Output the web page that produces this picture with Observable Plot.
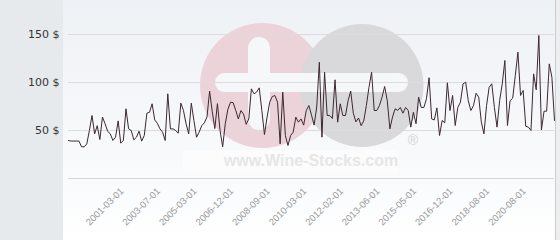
<!DOCTYPE html>
<html>
<head>
<meta charset="utf-8">
<script src="https://cdn.jsdelivr.net/npm/d3@7"></script>
<script src="https://cdn.jsdelivr.net/npm/@observablehq/plot@0.6"></script>
<style>
  html, body { margin: 0; padding: 0; background: #ffffff; }
  #wrap { position: relative; width: 560px; height: 240px; overflow: hidden; }
  #leftpanel { position: absolute; left: 0; top: 0; width: 63px; height: 240px; background: #e6eaed; }
  #plotbg { position: absolute; left: 63px; top: 0; width: 493px; height: 240px;
            background: linear-gradient(#eef1f5, #fbfcfd 200px, #ffffff); }
  #rightedge { position: absolute; left: 555px; top: 0; width: 5px; height: 240px;
               background: #eceef0; border-left: 1.5px solid #cdcdcd; box-sizing: border-box; }
  #wm, #chart { position: absolute; left: 0; top: 0; }
</style>
</head>
<body>
<div id="wrap">
  <div id="leftpanel"></div>
  <div id="plotbg"></div>
  <div id="rightedge"></div>
  <svg id="wm" width="560" height="240">
    <rect x="183" y="150" width="215" height="23" fill="#fcfcfd"/>
    <circle cx="262.5" cy="85.5" r="62.5" fill="#ebd3d9"/>
    <circle cx="362" cy="85.5" r="61.5" fill="#d9d9db"/>
    <rect x="215" y="73" width="193" height="19" rx="9.5" fill="#f6f7f9"/>
    <rect x="248" y="37" width="22" height="93" rx="11" fill="#f6f7f9"/>
    <text x="311" y="166" text-anchor="middle" font-family="Liberation Sans, Arial, sans-serif" font-weight="bold" font-size="16" fill="#e6e6e6">www.Wine-Stocks.com</text>
    <text x="413" y="145" text-anchor="middle" font-family="Liberation Sans, Arial, sans-serif" font-size="14" fill="#d4d4d4">®</text>
  </svg>
  <div id="chart"></div>
</div>
<script>
// Average price per sale (one value per category on the x axis)
const prices = [
  39.6, 39, 39, 39, 39, 33, 33, 36, 50, 65.6,
  46.5, 55, 40.6, 64, 57, 49, 46.5, 39.6, 43, 60,
  36.8, 39.6, 72.6, 51.7, 50, 40.3, 43, 49.3, 38.9, 44.8,
  68, 69, 77.8, 61, 57.6, 51.7, 48.3, 39.6, 88.2, 51.7,
  51.7, 50, 47.2, 78.5, 70.8, 57, 46.5, 78.5, 60.4, 43,
  48.3, 55, 58, 64, 91, 70, 52, 78, 50, 33,
  57, 72, 79.5, 79, 71, 62, 70.8, 67, 56.4, 62,
  93.4, 88.2, 90, 94.4, 70.8, 45.8, 63.9, 79.5, 85.4, 86.4,
  79.5, 36.1, 90, 44.8, 34.4, 44.8, 48.3, 63.9, 58.7, 62,
  55.6, 70.8, 76, 66, 55.6, 74.5, 121, 43, 110.7, 65.6,
  65.6, 62.5, 102.8, 58.7, 77.8, 65.6, 65.6, 81, 91, 68,
  59, 63, 55, 60, 76, 95, 110.7, 70.8, 70.8, 76,
  84.7, 95.8, 81, 51.7, 64, 72.6, 71, 74, 68, 74,
  71, 53.5, 69, 57, 84.7, 74, 74, 83, 105, 62,
  61, 73.6, 44.8, 60.4, 58, 99.7, 70.8, 86.5, 55.2, 74,
  79.5, 98.6, 100.3, 81, 70.8, 76, 88.8, 84.7, 58.7, 46.5,
  76, 95.1, 98.6, 74, 53.5, 81, 98.6, 122.9, 55.2, 81,
  83.7, 107.3, 131.6, 86.5, 91.7, 54.4, 53.5, 50, 109, 92.4,
  149, 50.7, 70.1, 70.1, 119.4, 105.5, 60.4
];

// x-axis labels (every 14th category is labelled, starting with category 22)
const tickLabels = [
  "2001-03-01", "2003-07-01", "2005-03-01", "2006-12-01", "2008-09-01", "2010-03-01",
  "2012-02-01", "2013-06-01", "2015-05-01", "2016-12-01", "2018-08-01", "2020-08-01"
];
const firstLabelIndex = 22;
const labelEvery = 14;

// y-axis ticks
const yTicks = [50, 100, 150];
const yMax = 185.4;

const n = prices.length;
const data = prices.map((v, i) => ({i, v}));
const labelIdx = tickLabels.map((_, k) => firstLabelIndex + k * labelEvery);

const chart = Plot.plot({
  width: 560,
  height: 240,
  marginLeft: 68,
  marginRight: 6,
  marginTop: 0,
  marginBottom: 62,
  style: {background: "transparent", fontFamily: "DejaVu Sans, sans-serif", overflow: "visible"},
  x: {domain: [0, n - 1], axis: null},
  y: {domain: [0, yMax], axis: null},
  marks: [
    Plot.gridY(yTicks, {stroke: "#dcdcdc", strokeOpacity: 1}),
    Plot.ruleY([0], {stroke: "#d6d6d6"}),
    Plot.axisY(yTicks, {
      label: null, tickSize: 0, tickPadding: 9, fontSize: 11, fill: "#333333",
      tickFormat: d => `${d} $`
    }),
    Plot.axisX(labelIdx, {
      label: null, tickSize: 0, tickPadding: 11, dx: -4, tickRotate: -45, fontSize: 9.5, fill: "#9a9a9a",
      fontFamily: "Liberation Sans, Arial, sans-serif",
      tickFormat: d => tickLabels[(d - firstLabelIndex) / labelEvery]
    }),
    Plot.line(data, {x: "i", y: "v", stroke: "#3b2830", strokeWidth: 1})
  ]
});
document.getElementById("chart").appendChild(chart);
</script>
</body>
</html>
